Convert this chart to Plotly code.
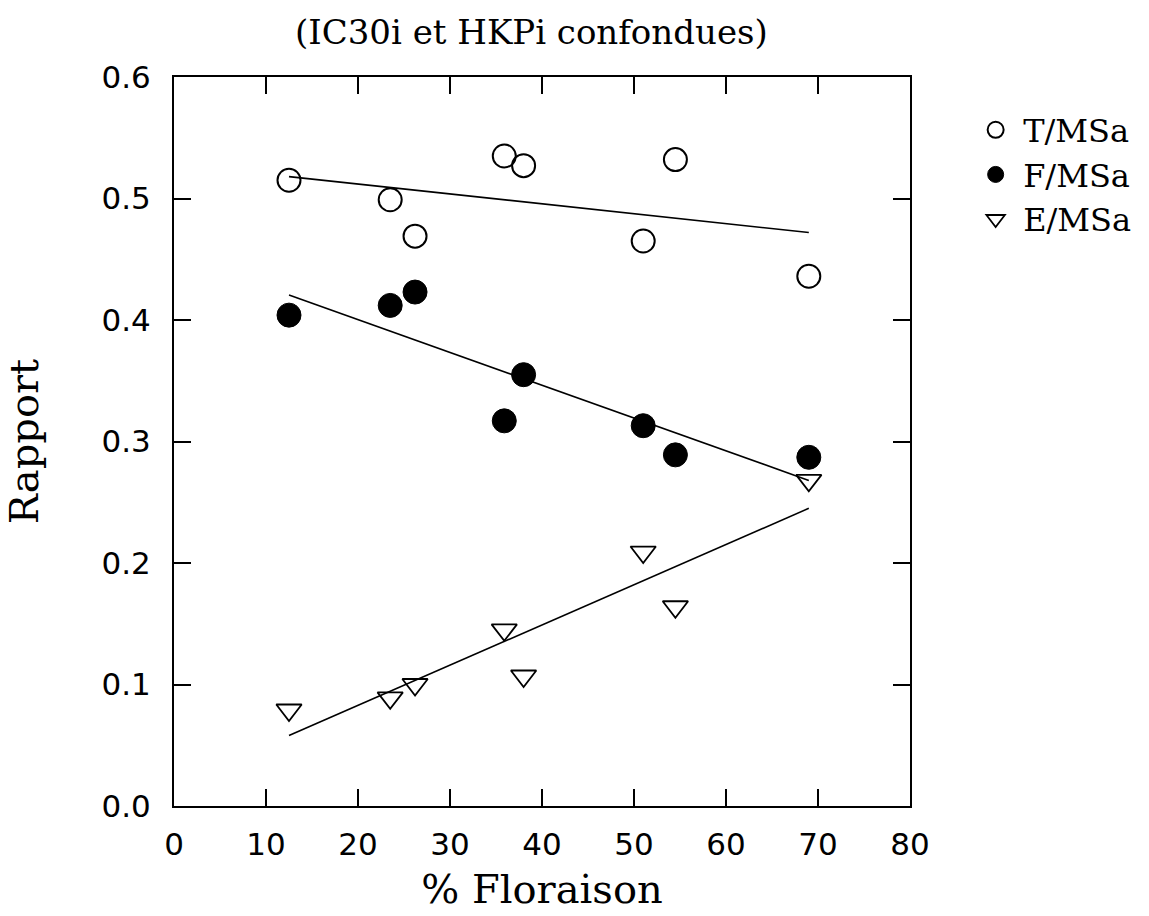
import plotly.graph_objects as go

# Flowering percentage of each sample
floraison = [12.5, 23.5, 26.2, 35.9, 38.0, 51.0, 54.5, 69.0]

# Ratios to above-ground dry matter
t_msa = [0.515, 0.499, 0.469, 0.535, 0.527, 0.465, 0.532, 0.436]
f_msa = [0.404, 0.412, 0.423, 0.317, 0.355, 0.313, 0.289, 0.287]
e_msa = [0.079, 0.089, 0.100, 0.145, 0.107, 0.209, 0.164, 0.268]

# Fitted straight lines (start and end of the flowering range)
fit_x = [12.5, 69.0]
fit_t = [0.518, 0.472]
fit_f = [0.4205, 0.268]
fit_e = [0.058, 0.245]

x_ticks = [0, 10, 20, 30, 40, 50, 60, 70, 80]
y_ticks = [0.0, 0.1, 0.2, 0.3, 0.4, 0.5, 0.6]

SERIF = "DejaVu Serif"
SANS = "DejaVu Sans"

fig = go.Figure()

for fy in (fit_t, fit_f, fit_e):
    fig.add_trace(go.Scatter(
        x=fit_x, y=fy, mode="lines",
        line=dict(color="black", width=1.6),
        showlegend=False, hoverinfo="skip",
    ))

fig.add_trace(go.Scatter(
    x=floraison, y=t_msa, mode="markers", name="T/MSa",
    marker=dict(symbol="circle-open", size=23, color="black",
                line=dict(width=2, color="black")),
))
fig.add_trace(go.Scatter(
    x=floraison, y=f_msa, mode="markers", name="F/MSa",
    marker=dict(symbol="circle", size=24, color="black",
                line=dict(width=1, color="black")),
))
fig.add_trace(go.Scatter(
    x=floraison, y=e_msa, mode="markers", name="E/MSa",
    marker=dict(symbol="triangle-down-open", size=22, color="black",
                line=dict(width=1.8, color="black")),
))

axis_common = dict(
    showline=True, linecolor="black", linewidth=2, mirror="ticks",
    ticks="inside", ticklen=17, tickwidth=2, tickcolor="black",
    showgrid=False, zeroline=False,
    tickfont=dict(family=SANS, size=31, color="black"),
)

fig.update_xaxes(
    range=[0, 80], tickvals=x_ticks, ticktext=[str(v) for v in x_ticks],
    ticklabelstandoff=10,
    title=dict(text="% Floraison", font=dict(family=SERIF, size=40, color="black"),
               standoff=14),
    **axis_common,
)
fig.update_yaxes(
    range=[0, 0.6], tickvals=y_ticks, ticktext=[f"{v:.1f}" for v in y_ticks],
    ticklabelstandoff=15,
    title=dict(text="Rapport", font=dict(family=SERIF, size=40, color="black"),
               standoff=50),
    **axis_common,
)

fig.add_annotation(
    text="(IC30i et HKPi confondues)", xref="paper", yref="paper",
    x=0.486, y=1.062, xanchor="center", yanchor="middle", showarrow=False,
    font=dict(family=SERIF, size=34, color="black"),
)

fig.update_layout(
    width=1149, height=916,
    margin=dict(l=174, r=239, t=77, b=103),
    paper_bgcolor="white", plot_bgcolor="white",
    legend=dict(
        x=1.079, y=0.965, xanchor="left", yanchor="top",
        font=dict(family=SERIF, size=32, color="black"),
        itemwidth=45,
        bgcolor="rgba(0,0,0,0)", borderwidth=0,
    ),
)

fig.write_html("out.html")
